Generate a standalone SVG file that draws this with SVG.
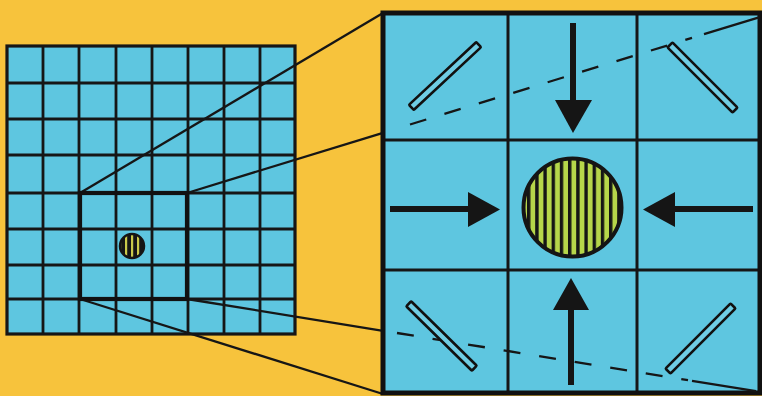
<svg xmlns="http://www.w3.org/2000/svg" width="762" height="396" viewBox="0 0 762 396">
<style>
.cell{fill:#5EC6E0}
.gl{stroke:#161616;stroke-width:2.8;fill:none}
.conn{stroke:#161616;stroke-width:2.3;fill:none}
.dash{stroke:#161616;stroke-width:2.3;fill:none;stroke-dasharray:17 19}
.mirror{fill:#6FCDE4;stroke:#111;stroke-width:2.6}
.shaft{stroke:#151515;stroke-width:6;fill:none}
.head{fill:#151515}
</style>
<defs>
<pattern id="stripes" patternUnits="userSpaceOnUse" x="527" y="0" width="8.2" height="10">
<rect x="0" y="0" width="8.2" height="10" fill="#B6D64A"/>
<rect x="0" y="0" width="3.4" height="10" fill="#151515"/>
</pattern>
<pattern id="stripesSmall" patternUnits="userSpaceOnUse" x="123" y="0" width="6" height="10">
<rect x="0" y="0" width="6" height="10" fill="#151515"/>
<rect x="2" y="0" width="2.2" height="10" fill="#C9C94A"/>
</pattern>
</defs>
<rect x="0" y="0" width="762" height="396" fill="#F7C33C"/>

<g id="overview-grid">
<rect class="cell" x="7" y="46" width="288" height="288"/>
<path class="gl" d="M43 46V334M79 46V334M116 46V334M152 46V334M188 46V334M224 46V334M260 46V334M7 83H295M7 119H295M7 155H295M7 193H295M7 229H295M7 265H295M7 299H295"/>
<rect x="7" y="46" width="288" height="288" fill="none" stroke="#161616" stroke-width="3.2"/>
</g>

<g id="connectors">
<line class="conn" x1="80" y1="193" x2="383" y2="13"/>
<line class="conn" x1="187" y1="193" x2="383" y2="132.8"/>
<line class="conn" x1="80" y1="299" x2="383" y2="394"/>
<line class="conn" x1="187" y1="299" x2="383" y2="330.8"/>
</g>

<g id="highlight-square">
<rect x="80" y="193" width="107" height="106" fill="none" stroke="#111" stroke-width="4.2"/>
</g>

<g id="small-target">
<circle cx="132" cy="246" r="12" fill="url(#stripesSmall)" stroke="#151515" stroke-width="2.5"/>
</g>

<g id="zoom-panel">
<rect class="cell" x="383" y="13" width="377" height="380"/>
<path d="M508 13V393M637 13V393M383 140H760M383 270H760" stroke="#161616" stroke-width="3" fill="none"/>
<rect x="383" y="13" width="377" height="380" fill="none" stroke="#111" stroke-width="5"/>
</g>

<g id="projection-lines">
<line class="dash" x1="410" y1="124.5" x2="692" y2="37.9"/>
<line class="conn" x1="704" y1="34.2" x2="759" y2="17.3"/>
<line class="dash" x1="397" y1="333" x2="688" y2="380.2"/>
<line class="conn" x1="692" y1="380.8" x2="756" y2="391.2"/>
</g>

<g id="mirror-top-left">
<rect class="mirror" x="-46" y="-3.5" width="92" height="7" rx="1" transform="translate(445 76) rotate(-43)"/>
</g>
<g id="mirror-top-right">
<rect class="mirror" x="-46" y="-3.5" width="92" height="7" rx="1" transform="translate(702.5 77.5) rotate(45)"/>
</g>
<g id="mirror-bottom-left">
<rect class="mirror" x="-46" y="-3.5" width="92" height="7" rx="1" transform="translate(441.5 336) rotate(44.5)"/>
</g>
<g id="mirror-bottom-right">
<rect class="mirror" x="-46" y="-3.5" width="92" height="7" rx="1" transform="translate(700.5 338.5) rotate(-45)"/>
</g>

<g id="arrow-top">
<line class="shaft" x1="573" y1="23" x2="573" y2="104"/>
<polygon class="head" points="555,100 592,100 573,133"/>
</g>
<g id="arrow-left">
<line class="shaft" x1="390" y1="209" x2="472" y2="209"/>
<polygon class="head" points="468,192 468,227 500,209.5"/>
</g>
<g id="arrow-right">
<line class="shaft" x1="671" y1="209" x2="753" y2="209"/>
<polygon class="head" points="675,192 675,227 643,209.5"/>
</g>
<g id="arrow-bottom">
<line class="shaft" x1="571" y1="306" x2="571" y2="385"/>
<polygon class="head" points="553,310 589,310 571,278"/>
</g>

<g id="target">
<circle cx="572.5" cy="207.5" r="49" fill="url(#stripes)" stroke="#151515" stroke-width="4"/>
</g>
</svg>
